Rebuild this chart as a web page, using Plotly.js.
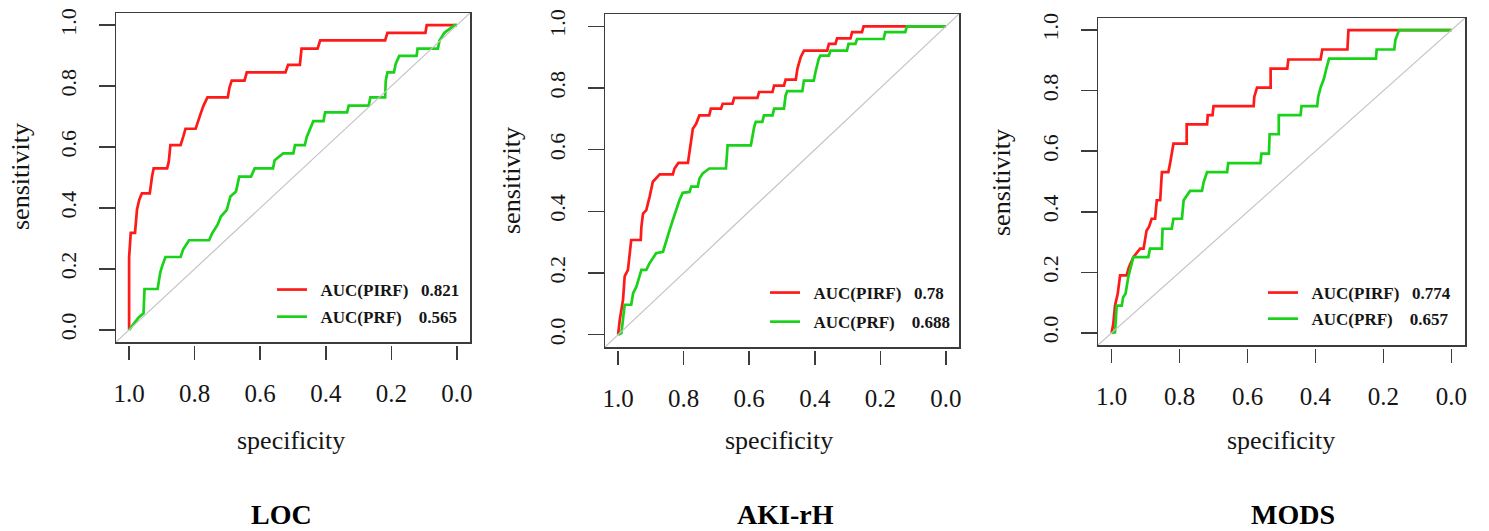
<!DOCTYPE html>
<html><head><meta charset="utf-8">
<script src="https://cdn.plot.ly/plotly-3.0.1.min.js"></script>
<style>html,body{margin:0;padding:0;background:#fff}#chart{width:1489px;height:531px}</style>
</head><body><div id="chart"></div>
<script>
// ---- data ----
const panelTitles = ["LOC", "AKI-rH", "MODS"];
const pirfAUC = ["0.821", "0.78", "0.774"];
const prfAUC = ["0.565", "0.688", "0.657"];
const axisTicks = [0, 0.2, 0.4, 0.6, 0.8, 1.0];
const axisTickText = ["0.0", "0.2", "0.4", "0.6", "0.8", "1.0"];

// LOC
const locPirfSpec = [1,1,0.995,0.982,0.976,0.969,0.961,0.937,0.930,0.925,0.884,0.879,0.874,0.843,0.835,0.828,0.797,0.790,0.782,0.773,0.761,0.699,0.694,0.687,0.648,0.641,0.523,0.515,0.479,0.474,0.425,0.417,0.219,0.212,0.096,0.092,0];
const locPirfSens = [0,0.237,0.318,0.318,0.394,0.427,0.448,0.448,0.503,0.530,0.530,0.552,0.606,0.606,0.633,0.660,0.660,0.687,0.709,0.736,0.763,0.763,0.794,0.818,0.818,0.845,0.845,0.870,0.870,0.923,0.923,0.950,0.950,0.975,0.975,1,1];
const locPrfSpec = [1,0.987,0.971,0.956,0.953,0.913,0.905,0.899,0.889,0.843,0.835,0.817,0.756,0.746,0.730,0.720,0.702,0.691,0.674,0.664,0.628,0.617,0.561,0.556,0.530,0.499,0.494,0.464,0.458,0.438,0.407,0.402,0.335,0.330,0.269,0.264,0.219,0.217,0.212,0.192,0.187,0.176,0.123,0.120,0.058,0.053,0.038,0.007,0];
const locPrfSens = [0,0.020,0.041,0.054,0.134,0.134,0.188,0.210,0.239,0.239,0.264,0.294,0.294,0.318,0.345,0.372,0.394,0.438,0.454,0.503,0.503,0.530,0.530,0.557,0.579,0.579,0.606,0.606,0.633,0.685,0.685,0.714,0.714,0.736,0.736,0.763,0.763,0.818,0.845,0.845,0.872,0.899,0.899,0.923,0.923,0.950,0.975,1,1];

// AKI-rH
const akiPirfSpec = [1,0.995,0.985,0.980,0.970,0.960,0.931,0.929,0.924,0.914,0.904,0.894,0.873,0.833,0.828,0.816,0.787,0.782,0.777,0.772,0.762,0.752,0.722,0.717,0.686,0.681,0.651,0.646,0.575,0.570,0.529,0.524,0.494,0.489,0.458,0.453,0.443,0.433,0.362,0.357,0.337,0.332,0.291,0.286,0.256,0.251,0];
const akiPirfSens = [0,0.048,0.113,0.189,0.210,0.307,0.307,0.350,0.393,0.404,0.447,0.496,0.520,0.520,0.539,0.557,0.557,0.593,0.620,0.668,0.684,0.711,0.711,0.733,0.733,0.749,0.749,0.768,0.768,0.787,0.787,0.808,0.808,0.827,0.827,0.862,0.900,0.921,0.921,0.943,0.943,0.961,0.961,0.981,0.981,1,1];
const akiPrfSpec = [1,0.990,0.980,0.960,0.954,0.944,0.929,0.914,0.904,0.884,0.863,0.853,0.843,0.833,0.823,0.813,0.803,0.782,0.777,0.757,0.752,0.742,0.722,0.671,0.666,0.595,0.585,0.580,0.560,0.555,0.529,0.524,0.494,0.489,0.484,0.438,0.433,0.403,0.398,0.388,0.383,0.357,0.352,0.302,0.297,0.276,0.271,0.190,0.185,0.124,0.119,0];
const akiPrfSens = [0,0.005,0.097,0.097,0.135,0.156,0.210,0.210,0.232,0.264,0.269,0.307,0.339,0.372,0.404,0.436,0.460,0.463,0.480,0.480,0.506,0.523,0.539,0.539,0.614,0.614,0.673,0.690,0.690,0.711,0.711,0.733,0.733,0.776,0.790,0.790,0.824,0.824,0.851,0.894,0.905,0.905,0.921,0.921,0.943,0.943,0.959,0.959,0.981,0.981,1,1];

// MODS
const modsPirfSpec = [1,0.995,0.990,0.982,0.975,0.956,0.949,0.936,0.916,0.906,0.897,0.890,0.882,0.872,0.867,0.857,0.852,0.833,0.828,0.823,0.818,0.779,0.779,0.719,0.717,0.703,0.700,0.582,0.580,0.572,0.532,0.532,0.483,0.480,0.385,0.380,0.306,0.303,0];
const modsPirfSens = [0,0.030,0.090,0.129,0.190,0.190,0.217,0.250,0.278,0.278,0.338,0.350,0.377,0.377,0.438,0.438,0.531,0.531,0.559,0.592,0.625,0.625,0.689,0.689,0.719,0.719,0.749,0.749,0.780,0.810,0.810,0.873,0.873,0.903,0.903,0.936,0.936,1,1];
const modsPrfSpec = [1,0.990,0.985,0.970,0.966,0.959,0.951,0.941,0.936,0.892,0.887,0.852,0.850,0.823,0.818,0.793,0.788,0.769,0.734,0.729,0.719,0.660,0.657,0.562,0.559,0.537,0.535,0.508,0.508,0.444,0.441,0.395,0.392,0.385,0.375,0.368,0.360,0.222,0.220,0.168,0.165,0.154,0];
const modsPrfSens = [0,0.002,0.090,0.090,0.118,0.129,0.184,0.228,0.250,0.250,0.278,0.278,0.344,0.344,0.377,0.377,0.438,0.469,0.469,0.498,0.531,0.531,0.561,0.561,0.592,0.592,0.656,0.656,0.719,0.719,0.749,0.749,0.780,0.810,0.840,0.873,0.906,0.906,0.936,0.936,0.967,1,1];

const pirfSpec = [locPirfSpec, akiPirfSpec, modsPirfSpec];
const pirfSens = [locPirfSens, akiPirfSens, modsPirfSens];
const prfSpec = [locPrfSpec, akiPrfSpec, modsPrfSpec];
const prfSens = [locPrfSens, akiPrfSens, modsPrfSens];

// ---- layout geometry (pixels) ----
const W = 1489, H = 531;
const px = v => v / W;
const py = v => 1 - v / H;
const boxes = [
  {l:116, r:470, t:13, b:342, ytitleX:21, ytitleY:177, xtitleX:291, titleX:281, legX:272, legY:272, gap:2},
  {l:605, r:959, t:14, b:347, ytitleX:511, ytitleY:181, xtitleX:779, titleX:785, legX:765, legY:275, gap:4},
  {l:1098, r:1465, t:18, b:345, ytitleX:1001, ytitleY:182, xtitleX:1281, titleX:1293, legX:1263, legY:275, gap:1}
];
const serif = "Liberation Serif, Times New Roman, serif";
const axCol = "#3c3c3c";
const nb = "\u00a0";

const traces = [];
const layout = {
  width: W, height: H,
  margin: {l:0, r:0, t:0, b:0},
  paper_bgcolor: "#fff", plot_bgcolor: "#fff",
  showlegend: true,
  annotations: []
};

boxes.forEach((b, i) => {
  const s = i === 0 ? "" : String(i + 1);
  const tk = String(i + 4);
  const range = [1.04, -0.04];
  layout["xaxis" + s] = {
    domain: [px(b.l), px(b.r)], range: range, anchor: "y" + s,
    showline: true, mirror: true, linecolor: axCol, linewidth: 1.5,
    ticks: "", showticklabels: false, showgrid: false, zeroline: false, fixedrange: true
  };
  layout["yaxis" + s] = {
    domain: [py(b.b), py(b.t)], range: [-0.04, 1.04], anchor: "x" + s,
    showline: true, mirror: true, linecolor: axCol, linewidth: 1.5,
    ticks: "outside", ticklen: 16, tickwidth: 1.5, tickcolor: axCol,
    tickvals: axisTicks, ticktext: axisTickText, tickangle: -90,
    tickfont: {family: serif, size: 22, color: "#151515"},
    ticklabelstandoff: 14,
    showgrid: false, zeroline: false, fixedrange: true
  };
  layout["xaxis" + tk] = {
    overlaying: "x" + s, anchor: "free", position: py(b.b + 3),
    domain: [px(b.l), px(b.r)], range: range,
    showline: false, ticks: "outside", ticklen: 14, tickwidth: 1.5, tickcolor: axCol,
    tickvals: axisTicks, ticktext: axisTickText,
    tickfont: {family: serif, size: 25, color: "#151515"},
    ticklabelstandoff: 12,
    showgrid: false, zeroline: false, fixedrange: true
  };
  // reference diagonal
  traces.push({
    x: [1.04, -0.04], y: [-0.04, 1.04], xaxis: "x" + tk, yaxis: "y" + s,
    mode: "lines", line: {color: "#c4c4c4", width: 1.2},
    showlegend: false, hoverinfo: "skip"
  });
  const leg = i === 0 ? "legend" : "legend" + (i + 1);
  traces.push({
    x: pirfSpec[i], y: pirfSens[i], xaxis: "x" + s, yaxis: "y" + s,
    mode: "lines", line: {color: "#ff1a1a", width: 2.7},
    name: nb + nb + "AUC(PIRF)" + nb + nb + nb + pirfAUC[i], legend: leg, legendgroup: "a" + i
  });
  traces.push({
    x: prfSpec[i], y: prfSens[i], xaxis: "x" + s, yaxis: "y" + s,
    mode: "lines", line: {color: "#19d219", width: 2.7},
    name: nb + nb + "AUC(PRF)" + nb + nb + nb + nb + prfAUC[i], legend: leg, legendgroup: "b" + i
  });
  layout[leg] = {
    x: px(b.legX), y: py(b.legY), xanchor: "left", yanchor: "top",
    bgcolor: "rgba(0,0,0,0)", borderwidth: 0,
    font: {family: serif, size: 17, color: "#151515", weight: "bold"},
    traceorder: "grouped", tracegroupgap: b.gap, itemwidth: 30
  };
  layout.annotations.push({
    text: "sensitivity", xref: "paper", yref: "paper",
    x: px(b.ytitleX), y: py(b.ytitleY), xanchor: "center", yanchor: "middle",
    textangle: -90, showarrow: false,
    font: {family: serif, size: 26, color: "#151515"}
  });
  layout.annotations.push({
    text: "specificity", xref: "paper", yref: "paper",
    x: px(b.xtitleX), y: py(440), xanchor: "center", yanchor: "middle",
    showarrow: false, font: {family: serif, size: 26, color: "#151515"}
  });
  layout.annotations.push({
    text: "<b>" + panelTitles[i] + "</b>", xref: "paper", yref: "paper",
    x: px(b.titleX), y: py(514), xanchor: "center", yanchor: "middle",
    showarrow: false, font: {family: serif, size: 28, color: "#000"}
  });
});

Plotly.newPlot("chart", traces, layout, {displayModeBar: false, staticPlot: true});
</script></body></html>
